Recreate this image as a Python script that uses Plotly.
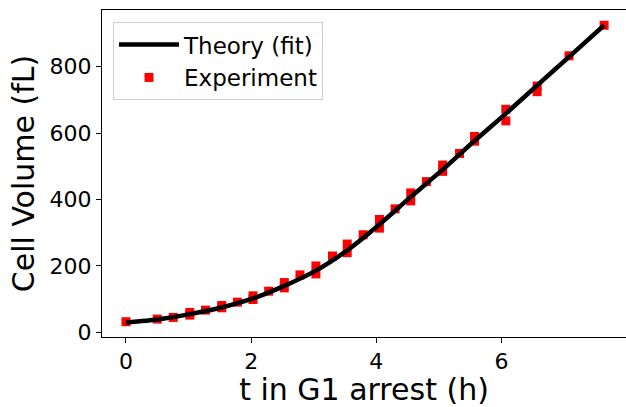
import plotly.graph_objects as go

# Experiment data (time in h, volume in fL)
t_exp = [0.0, 0.50, 0.755, 1.02, 1.02, 1.27, 1.53, 1.53, 1.78, 2.03, 2.03, 2.28,
         2.53, 2.53, 2.78, 3.035, 3.035, 3.30, 3.535, 3.535, 3.79, 4.05, 4.05,
         4.30, 4.55, 4.55, 4.80, 5.06, 5.06, 5.33, 5.57, 5.57, 6.07, 6.07,
         6.57, 6.57, 7.08, 7.64]
v_exp = [32, 40, 45, 60, 52, 67, 81, 74, 91, 110, 99, 124,
         150, 134, 173, 200, 176, 230, 266, 240, 294, 340, 314,
         372, 420, 396, 454, 504, 485, 539, 590, 576, 672, 637,
         742, 725, 833, 925]

# Theory (fit) curve samples
t_fit = [0.0, 0.5, 1.02, 1.53, 2.03, 2.53, 3.035, 3.535, 4.05, 4.55, 5.06, 5.57,
         6.07, 6.57, 7.08, 7.64]
v_fit = [30, 39, 55, 75, 102, 140, 186, 247, 325, 408, 490, 577,
         659, 744, 830, 925]

x_ticks = [0, 2, 4, 6]
y_ticks = [0, 200, 400, 600, 800]

FONT = "DejaVu Sans"

fig = go.Figure()
fig.add_trace(go.Scatter(
    x=t_exp, y=v_exp, mode="markers", name="Experiment",
    marker=dict(symbol="square", size=9, color="#ff0000"),
    legendrank=2,
))
fig.add_trace(go.Scatter(
    x=t_fit, y=v_fit, mode="lines", name="Theory (fit)",
    line=dict(color="black", width=4.5, shape="spline", smoothing=0.6),
    legendrank=1,
))

axis_common = dict(
    showline=True, linecolor="black", linewidth=1, mirror=True,
    ticks="outside", ticklen=5, tickcolor="black", tickwidth=1,
    showgrid=False, zeroline=False, automargin=False,
    tickfont=dict(family=FONT, size=22, color="black"),
)

fig.update_layout(
    width=626, height=407,
    margin=dict(l=102, r=0, t=10, b=70),
    paper_bgcolor="white", plot_bgcolor="white",
    font=dict(family=FONT, color="black"),
    showlegend=True,
    legend=dict(
        x=0.021, y=0.963, xanchor="left", yanchor="top",
        bgcolor="rgba(255,255,255,0.8)", bordercolor="#cccccc", borderwidth=1,
        font=dict(family=FONT, size=23, color="black"),
        tracegroupgap=0, itemwidth=60,
    ),
)
fig.update_xaxes(
    range=[-0.383, 7.99], tickvals=x_ticks,
    title=dict(text="t in G1 arrest (h)", font=dict(family=FONT, size=30, color="black"), standoff=2),
    **axis_common,
)
fig.update_yaxes(
    range=[-14, 971], tickvals=y_ticks,
    title=dict(text="Cell Volume (fL)", font=dict(family=FONT, size=30, color="black"), standoff=6),
    **axis_common,
)

fig.write_html("out.html", config={"displayModeBar": False},
               post_script="document.body.style.margin='0';")
